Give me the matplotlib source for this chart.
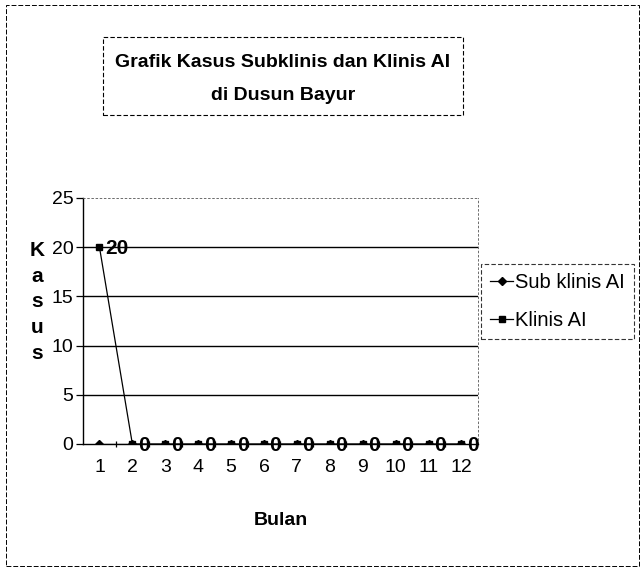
import matplotlib.pyplot as plt
from matplotlib.patches import Rectangle

plt.rcParams['font.family'] = ['Liberation Sans Narrow', 'Liberation Sans', 'DejaVu Sans']

# data
bulan = [1, 2, 3, 4, 5, 6, 7, 8, 9, 10, 11, 12]
sub_klinis = [0, 0, 0, 0, 0, 0, 0, 0, 0, 0, 0, 0]
klinis = [20, 0, 0, 0, 0, 0, 0, 0, 0, 0, 0, 0]
yticks = [0, 5, 10, 15, 20, 25]

fig = plt.figure(figsize=(6.41, 5.69), dpi=100)
ax = fig.add_axes([0.1295, 0.2197, 0.616, 0.4324])

# gridlines
for y in yticks[1:-1]:
    ax.axhline(y, color="black", linewidth=1.0, zorder=1)

ax.plot(bulan, sub_klinis, color="black", linewidth=0.9, marker="D",
        markersize=4, label="Sub klinis AI", zorder=3)
ax.plot(bulan, klinis, color="black", linewidth=0.9, marker="s",
        markersize=4, label="Klinis AI", zorder=3)

# data labels on the Klinis series
for x, v in zip(bulan, klinis):
    ax.annotate(str(v), (x, v), xytext=(4, -1), textcoords="offset points",
                ha="left", va="center", fontsize=15, fontweight="bold")

ax.set_xlim(0.5, 12.5)
ax.set_ylim(0, 25)
ax.set_yticks(yticks)
ax.set_xticks(bulan)
ax.set_xticklabels([str(b) for b in bulan])
ax.set_xticks([b + 0.5 for b in bulan[:-1]], minor=True)
ax.tick_params(axis="y", labelsize=14, length=5, width=0.9, pad=2)
ax.tick_params(axis="x", which="major", labelsize=14, length=0, pad=11)
ax.tick_params(axis="x", which="minor", length=4, width=0.9, direction="inout")

for side in ["top", "right"]:
    ax.spines[side].set_linestyle((0, (2, 3)))
    ax.spines[side].set_linewidth(0.6)
    ax.spines[side].set_color("#555555")
ax.spines["left"].set_linewidth(1.0)
ax.spines["bottom"].set_linewidth(1.0)

ax.set_xlabel("Bulan", fontsize=14, fontweight="bold", labelpad=26)

# stacked y label
fig.text(37 / 641, 1 - 302 / 569, "K\na\ns\nu\ns", ha="center", va="center",
         fontsize=15, fontweight="bold", linespacing=1.45)

# title box
fig.text(283 / 641, 1 - 79 / 569, "Grafik Kasus Subklinis dan Klinis AI\ndi Dusun Bayur",
         ha="center", va="center", fontsize=14, fontweight="bold", linespacing=2.3)
fig.patches.append(Rectangle((103 / 641, 1 - 115 / 569), 360 / 641, 78 / 569,
                             transform=fig.transFigure, fill=False,
                             edgecolor="black", linewidth=0.8, linestyle=(0, (4, 2))))

# legend
leg = fig.legend(loc="upper left", bbox_to_anchor=(481 / 641, 1 - 264 / 569),
                 fontsize=14.5, frameon=True, fancybox=False, handlelength=1.15,
                 handletextpad=0.1, borderpad=0.45, borderaxespad=0,
                 labelspacing=0.95)
leg.get_frame().set_edgecolor("black")
leg.get_frame().set_linewidth(0.8)
leg.get_frame().set_linestyle((0, (4, 2)))

# outer border
fig.patches.append(Rectangle((6 / 641, 3 / 569), 633 / 641, 561 / 569,
                             transform=fig.transFigure, fill=False,
                             edgecolor="black", linewidth=0.7, linestyle=(0, (5, 2))))

fig.savefig("out.png", dpi=100)
